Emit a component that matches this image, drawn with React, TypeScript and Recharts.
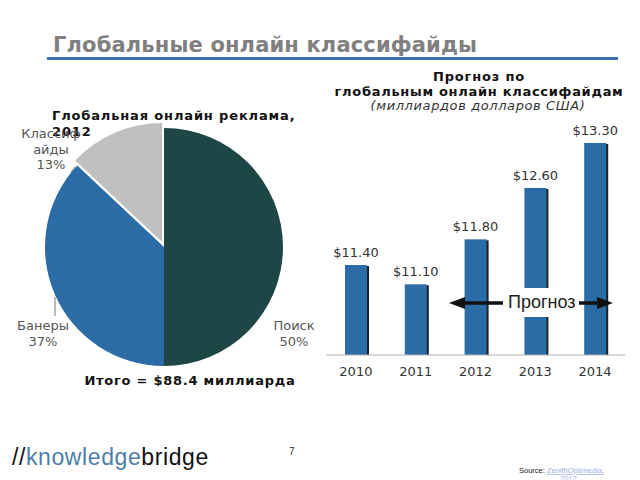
import React from 'react';
import { PieChart, Pie, Cell, BarChart, Bar, XAxis, YAxis, LabelList } from 'recharts';

const shareNames = ['Поиск', 'Банеры', 'Классифайды'];
const shareValues = [50, 37, 13];
const shareColors = ['#1f4647', '#2b6ba6', '#c0c0c0'];

const years = ['2010', '2011', '2012', '2013', '2014'];
const revenue = [11.4, 11.1, 11.8, 12.6, 13.3];
const revenueLabels = ['$11.40', '$11.10', '$11.80', '$12.60', '$13.30'];

const pieData = shareNames.map((name, i) => ({ name, value: shareValues[i] }));
const barData = years.map((year, i) => ({ year, value: revenue[i], label: revenueLabels[i] }));

const FONT = '"DejaVu Sans", Verdana, sans-serif';
const ARIAL = '"Liberation Sans", Arial, sans-serif';

const ShadowBar = (props: any) => {
  const { x, y, width, height } = props;
  if (!height || height <= 0) return null;
  return (
    <g>
      <rect x={x + 2} y={y + 1} width={width} height={height - 1} fill="#16222e" />
      <rect x={x} y={y} width={width} height={height} fill="#2b6ba6" />
    </g>
  );
};

export default function App() {
  return (
    <div style={{ position: 'absolute', left: 0, top: 0, width: 640, height: 480, background: '#fff', overflow: 'hidden' }}>
      <div style={{ position: 'absolute', left: 0, top: 0 }}>
        <PieChart width={330} height={480} margin={{ top: 0, right: 0, bottom: 0, left: 0 }}>
          <Pie
            data={pieData}
            dataKey="value"
            nameKey="name"
            cx={164}
            cy={247}
            outerRadius={119}
            startAngle={90}
            endAngle={-270}
            stroke="none"
            isAnimationActive={false}
          >
            {pieData.map((d, i) => (
              <Cell key={d.name} fill={i === 2 ? 'transparent' : shareColors[i]} stroke="none" />
            ))}
          </Pie>
          <Pie
            data={pieData}
            dataKey="value"
            nameKey="name"
            cx={162}
            cy={242}
            outerRadius={119}
            startAngle={90}
            endAngle={-270}
            stroke="none"
            isAnimationActive={false}
          >
            {pieData.map((d, i) => (
              <Cell key={d.name} fill={i === 2 ? shareColors[i] : 'transparent'} stroke="none" />
            ))}
          </Pie>
        </PieChart>
      </div>

      <div style={{ position: 'absolute', left: 300, top: 60 }}>
        <BarChart width={340} height={330} data={barData} margin={{ top: 38, right: 15, bottom: 5, left: 26 }} barSize={22}>
          <XAxis
            dataKey="year"
            height={30}
            axisLine={{ stroke: '#b0b0b0' }}
            tickLine={false}
            tickSize={6}
            tickMargin={6}
            tick={{ fill: '#333', fontSize: 13, fontFamily: FONT }}
          />
          <YAxis hide domain={[10, 14]} type="number" allowDataOverflow />
          <Bar dataKey="value" shape={ShadowBar} isAnimationActive={false}>
            <LabelList dataKey="label" position="top" offset={8} fill="#333" fontSize={13} fontFamily={FONT} />
          </Bar>
        </BarChart>
      </div>

      <svg width={640} height={480} style={{ position: 'absolute', left: 0, top: 0, pointerEvents: 'none' }}>
        {/* main title */}
        <text x={53} y={52} fontFamily={FONT} fontWeight="bold" fontSize={21} fill="#808080" letterSpacing={0.15}>
          Глобальные онлайн классифайды
        </text>
        <rect x={47} y={57} width={571} height={3} fill="#3a71aa" />

        {/* pie title */}
        <text x={52} y={120} fontFamily={FONT} fontWeight="bold" fontSize={13} fill="#111" letterSpacing={0.85}>
          Глобальная онлайн реклама,
        </text>
        <text x={52} y={136} fontFamily={FONT} fontWeight="bold" fontSize={13} fill="#111" letterSpacing={0.85}>
          2012
        </text>

        {/* pie labels */}
        <g fontFamily={FONT} fontSize={13} fill="#555" textAnchor="middle">
          <text x={51} y={138}>Классиф</text>
          <text x={51} y={154}>айды</text>
          <text x={51} y={169}>13%</text>
          <text x={43} y={330}>Банеры</text>
          <text x={43} y={346}>37%</text>
          <text x={294} y={330}>Поиск</text>
          <text x={294} y={346}>50%</text>
        </g>
        <line x1={55} y1={297} x2={55} y2={316} stroke="#777" strokeWidth={1} />
        <line x1={71} y1={172} x2={75} y2={167} stroke="#777" strokeWidth={1} />

        <text x={190} y={385} textAnchor="middle" fontFamily={FONT} fontWeight="bold" fontSize={13} fill="#111" letterSpacing={0.75}>
          Итого = $88.4 миллиарда
        </text>

        {/* right title */}
        <g textAnchor="middle" fontFamily={FONT} fill="#111">
          <text x={479} y={81} fontWeight="bold" fontSize={13} letterSpacing={0.8}>Прогноз по</text>
          <text x={479} y={96} fontWeight="bold" fontSize={13} letterSpacing={0.7}>глобальным онлайн классифайдам</text>
          <text x={478} y={110} fontStyle="italic" fontSize={13} fill="#333" letterSpacing={0.6}>(миллиардов долларов США)</text>
        </g>

        {/* forecast annotation */}
        <rect x={505} y={288} width={73} height={29} fill="#fff" />
        <line x1={460} y1={303} x2={503} y2={303} stroke="#111" strokeWidth={3.5} />
        <polygon points="449,303 465,297 465,309" fill="#111" />
        <line x1={579} y1={303} x2={602} y2={303} stroke="#111" strokeWidth={3.5} />
        <polygon points="613,303 597,297 597,309" fill="#111" />
        <text x={508} y={308} fontFamily={ARIAL} fontSize={18} fill="#222">Прогноз</text>

        {/* footer */}
        <text x={12} y={465} fontFamily={ARIAL} fontSize={23} letterSpacing={0.6}>
          <tspan fill="#111">//</tspan>
          <tspan fill="#4d7ea8">knowledge</tspan>
          <tspan fill="#111">bridge</tspan>
        </text>
        <text x={289} y={455} fontFamily={ARIAL} fontSize={10} fill="#333">7</text>
        <text x={519} y={473} fontFamily={ARIAL} fontSize={7.5} fill="#222">
          Source: <tspan fill="#9fb0e6" textDecoration="underline">ZenithOptimedia,</tspan>
        </text>
        <text x={560} y={481} fontFamily={ARIAL} fontSize={7.5} fill="#9fb0e6">2012</text>
      </svg>
    </div>
  );
}
